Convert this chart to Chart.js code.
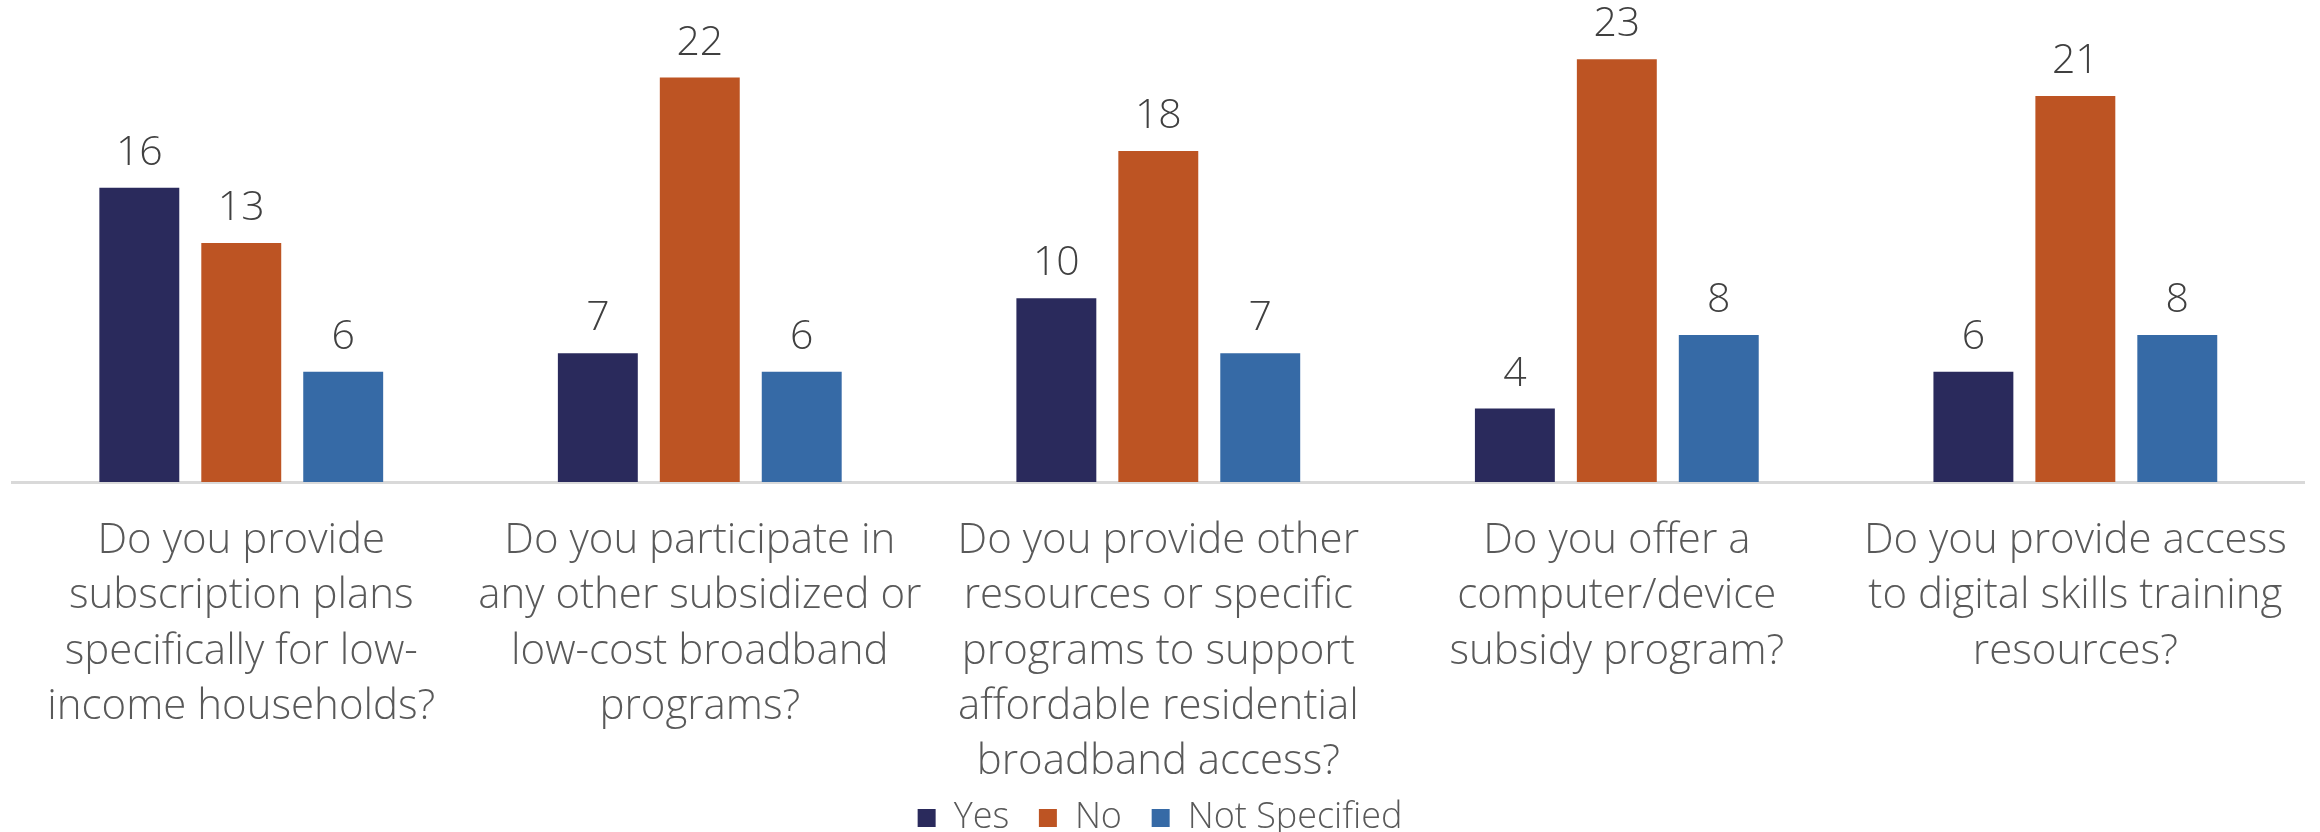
<!DOCTYPE html>
<html>
<head>
<meta charset="utf-8">
<script src="https://cdn.jsdelivr.net/npm/chart.js@4.4.1/dist/chart.umd.min.js"></script>
<style>
  html, body { margin: 0; padding: 0; background: #fff; }
  #wrap { width: 2320px; height: 832px; }
</style>
</head>
<body>
<div id="wrap"><canvas id="myChart"></canvas></div>
<script>
const questions = [
    ["Do you provide", "subscription plans", "specifically for low-", "income households?"],
    ["Do you participate in", "any other subsidized or", "low-cost broadband", "programs?"],
    ["Do you provide other", "resources or specific", "programs to support", "affordable residential", "broadband access?"],
    ["Do you offer a", "computer/device", "subsidy program?"],
    ["Do you provide access", "to digital skills training", "resources?"]
];
const yesCounts = [16, 7, 10, 4, 6];
const noCounts = [13, 22, 18, 23, 21];
const notSpecifiedCounts = [6, 6, 7, 8, 8];

const FONT = "'Open Sans', sans-serif";

// writes each bar's value above it
const valueLabels = {
    id: 'valueLabels',
    afterDatasetsDraw(chart) {
        const c = chart.ctx;
        c.save();
        c.font = '300 41px ' + FONT;
        c.fillStyle = '#404040';
        c.textAlign = 'center';
        c.textBaseline = 'bottom';
        chart.data.datasets.forEach((ds, i) => {
            chart.getDatasetMeta(i).data.forEach((bar, j) => {
                c.fillText(ds.data[j], bar.x, bar.y - 14);
            });
        });
        c.restore();
    }
};

const ctx = document.getElementById('myChart');

new Chart(ctx, {
    type: 'bar',
    data: {
        labels: questions,
        datasets: [{
            label: 'Yes',
            data: yesCounts,
            backgroundColor: '#2a2a5c'
        }, {
            label: 'No',
            data: noCounts,
            backgroundColor: '#bd5423'
        }, {
            label: 'Not Specified',
            data: notSpecifiedCounts,
            backgroundColor: '#366aa6'
        }]
    },
    options: {
        responsive: true,
        maintainAspectRatio: false,
        animation: false,
        categoryPercentage: 0.667,
        barPercentage: 0.784,
        layout: {
            padding: { top: 4, left: 12, right: 12, bottom: -14 }
        },
        plugins: {
            tooltip: { enabled: false },
            legend: {
                position: 'bottom',
                labels: {
                    boxWidth: 18,
                    boxHeight: 18,
                    padding: 11,
                    color: '#595959',
                    font: { family: FONT, size: 36, weight: '300' },
                    // a little extra room between the legend entries
                    generateLabels(chart) {
                        const items = Chart.defaults.plugins.legend.labels.generateLabels(chart);
                        items.forEach((item, i) => {
                            if (i < items.length - 1) item.text += '  ';
                        });
                        return items;
                    }
                }
            }
        },
        scales: {
            y: {
                display: false,
                min: 0,
                max: 26
            },
            x: {
                grid: { display: false, drawTicks: false },
                border: { display: true, color: '#d9d9d9', width: 3 },
                afterFit(scale) {
                    scale.height = 307;
                },
                ticks: {
                    padding: 32,
                    maxRotation: 0,
                    autoSkip: false,
                    color: '#595959',
                    font: { family: FONT, size: 42, weight: '300', lineHeight: 1.31 }
                }
            }
        }
    },
    plugins: [valueLabels]
});
</script>
</body>
</html>
